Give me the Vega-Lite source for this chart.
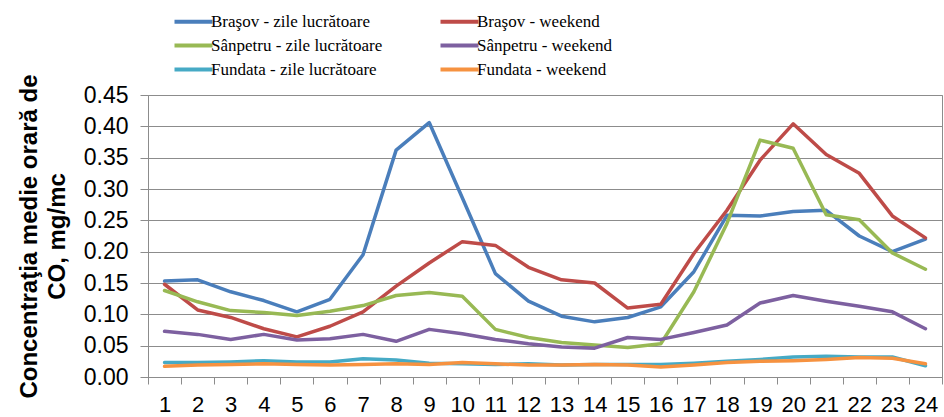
{
  "$schema": "https://vega.github.io/schema/vega-lite/v6.json",
  "width": 794,
  "height": 282,
  "autosize": {"type": "none"},
  "padding": {"left": 148, "top": 95, "right": 2, "bottom": 40},
  "background": "white",
  "config": {
    "view": {"stroke": "#8c8c8c", "strokeWidth": 1},
    "font": "Liberation Sans"
  },
  "datasets": {
    "d": [
      {"ora":"1","serie":"Braşov - zile lucrătoare","val":0.153},{"ora":"2","serie":"Braşov - zile lucrătoare","val":0.155},{"ora":"3","serie":"Braşov - zile lucrătoare","val":0.136},{"ora":"4","serie":"Braşov - zile lucrătoare","val":0.122},{"ora":"5","serie":"Braşov - zile lucrătoare","val":0.104},{"ora":"6","serie":"Braşov - zile lucrătoare","val":0.124},{"ora":"7","serie":"Braşov - zile lucrătoare","val":0.195},{"ora":"8","serie":"Braşov - zile lucrătoare","val":0.362},{"ora":"9","serie":"Braşov - zile lucrătoare","val":0.406},{"ora":"10","serie":"Braşov - zile lucrătoare","val":0.286},{"ora":"11","serie":"Braşov - zile lucrătoare","val":0.165},{"ora":"12","serie":"Braşov - zile lucrătoare","val":0.121},{"ora":"13","serie":"Braşov - zile lucrătoare","val":0.097},{"ora":"14","serie":"Braşov - zile lucrătoare","val":0.088},{"ora":"15","serie":"Braşov - zile lucrătoare","val":0.095},{"ora":"16","serie":"Braşov - zile lucrătoare","val":0.112},{"ora":"17","serie":"Braşov - zile lucrătoare","val":0.168},{"ora":"18","serie":"Braşov - zile lucrătoare","val":0.258},{"ora":"19","serie":"Braşov - zile lucrătoare","val":0.257},{"ora":"20","serie":"Braşov - zile lucrătoare","val":0.264},{"ora":"21","serie":"Braşov - zile lucrătoare","val":0.266},{"ora":"22","serie":"Braşov - zile lucrătoare","val":0.225},{"ora":"23","serie":"Braşov - zile lucrătoare","val":0.200},{"ora":"24","serie":"Braşov - zile lucrătoare","val":0.220},
      {"ora":"1","serie":"Braşov - weekend","val":0.148},{"ora":"2","serie":"Braşov - weekend","val":0.107},{"ora":"3","serie":"Braşov - weekend","val":0.095},{"ora":"4","serie":"Braşov - weekend","val":0.077},{"ora":"5","serie":"Braşov - weekend","val":0.064},{"ora":"6","serie":"Braşov - weekend","val":0.081},{"ora":"7","serie":"Braşov - weekend","val":0.104},{"ora":"8","serie":"Braşov - weekend","val":0.145},{"ora":"9","serie":"Braşov - weekend","val":0.182},{"ora":"10","serie":"Braşov - weekend","val":0.216},{"ora":"11","serie":"Braşov - weekend","val":0.210},{"ora":"12","serie":"Braşov - weekend","val":0.175},{"ora":"13","serie":"Braşov - weekend","val":0.155},{"ora":"14","serie":"Braşov - weekend","val":0.150},{"ora":"15","serie":"Braşov - weekend","val":0.110},{"ora":"16","serie":"Braşov - weekend","val":0.116},{"ora":"17","serie":"Braşov - weekend","val":0.197},{"ora":"18","serie":"Braşov - weekend","val":0.266},{"ora":"19","serie":"Braşov - weekend","val":0.346},{"ora":"20","serie":"Braşov - weekend","val":0.404},{"ora":"21","serie":"Braşov - weekend","val":0.355},{"ora":"22","serie":"Braşov - weekend","val":0.325},{"ora":"23","serie":"Braşov - weekend","val":0.257},{"ora":"24","serie":"Braşov - weekend","val":0.222},
      {"ora":"1","serie":"Sânpetru - zile lucrătoare","val":0.138},{"ora":"2","serie":"Sânpetru - zile lucrătoare","val":0.120},{"ora":"3","serie":"Sânpetru - zile lucrătoare","val":0.106},{"ora":"4","serie":"Sânpetru - zile lucrătoare","val":0.103},{"ora":"5","serie":"Sânpetru - zile lucrătoare","val":0.098},{"ora":"6","serie":"Sânpetru - zile lucrătoare","val":0.105},{"ora":"7","serie":"Sânpetru - zile lucrătoare","val":0.114},{"ora":"8","serie":"Sânpetru - zile lucrătoare","val":0.130},{"ora":"9","serie":"Sânpetru - zile lucrătoare","val":0.135},{"ora":"10","serie":"Sânpetru - zile lucrătoare","val":0.129},{"ora":"11","serie":"Sânpetru - zile lucrătoare","val":0.076},{"ora":"12","serie":"Sânpetru - zile lucrătoare","val":0.063},{"ora":"13","serie":"Sânpetru - zile lucrătoare","val":0.055},{"ora":"14","serie":"Sânpetru - zile lucrătoare","val":0.051},{"ora":"15","serie":"Sânpetru - zile lucrătoare","val":0.047},{"ora":"16","serie":"Sânpetru - zile lucrătoare","val":0.053},{"ora":"17","serie":"Sânpetru - zile lucrătoare","val":0.136},{"ora":"18","serie":"Sânpetru - zile lucrătoare","val":0.245},{"ora":"19","serie":"Sânpetru - zile lucrătoare","val":0.378},{"ora":"20","serie":"Sânpetru - zile lucrătoare","val":0.365},{"ora":"21","serie":"Sânpetru - zile lucrătoare","val":0.259},{"ora":"22","serie":"Sânpetru - zile lucrătoare","val":0.251},{"ora":"23","serie":"Sânpetru - zile lucrătoare","val":0.198},{"ora":"24","serie":"Sânpetru - zile lucrătoare","val":0.172},
      {"ora":"1","serie":"Sânpetru - weekend","val":0.073},{"ora":"2","serie":"Sânpetru - weekend","val":0.068},{"ora":"3","serie":"Sânpetru - weekend","val":0.060},{"ora":"4","serie":"Sânpetru - weekend","val":0.068},{"ora":"5","serie":"Sânpetru - weekend","val":0.059},{"ora":"6","serie":"Sânpetru - weekend","val":0.061},{"ora":"7","serie":"Sânpetru - weekend","val":0.068},{"ora":"8","serie":"Sânpetru - weekend","val":0.057},{"ora":"9","serie":"Sânpetru - weekend","val":0.076},{"ora":"10","serie":"Sânpetru - weekend","val":0.069},{"ora":"11","serie":"Sânpetru - weekend","val":0.060},{"ora":"12","serie":"Sânpetru - weekend","val":0.053},{"ora":"13","serie":"Sânpetru - weekend","val":0.048},{"ora":"14","serie":"Sânpetru - weekend","val":0.046},{"ora":"15","serie":"Sânpetru - weekend","val":0.063},{"ora":"16","serie":"Sânpetru - weekend","val":0.060},{"ora":"17","serie":"Sânpetru - weekend","val":0.071},{"ora":"18","serie":"Sânpetru - weekend","val":0.083},{"ora":"19","serie":"Sânpetru - weekend","val":0.118},{"ora":"20","serie":"Sânpetru - weekend","val":0.130},{"ora":"21","serie":"Sânpetru - weekend","val":0.121},{"ora":"22","serie":"Sânpetru - weekend","val":0.113},{"ora":"23","serie":"Sânpetru - weekend","val":0.104},{"ora":"24","serie":"Sânpetru - weekend","val":0.077},
      {"ora":"1","serie":"Fundata - zile lucrătoare","val":0.023},{"ora":"2","serie":"Fundata - zile lucrătoare","val":0.023},{"ora":"3","serie":"Fundata - zile lucrătoare","val":0.024},{"ora":"4","serie":"Fundata - zile lucrătoare","val":0.026},{"ora":"5","serie":"Fundata - zile lucrătoare","val":0.024},{"ora":"6","serie":"Fundata - zile lucrătoare","val":0.024},{"ora":"7","serie":"Fundata - zile lucrătoare","val":0.029},{"ora":"8","serie":"Fundata - zile lucrătoare","val":0.027},{"ora":"9","serie":"Fundata - zile lucrătoare","val":0.022},{"ora":"10","serie":"Fundata - zile lucrătoare","val":0.021},{"ora":"11","serie":"Fundata - zile lucrătoare","val":0.020},{"ora":"12","serie":"Fundata - zile lucrătoare","val":0.021},{"ora":"13","serie":"Fundata - zile lucrătoare","val":0.019},{"ora":"14","serie":"Fundata - zile lucrătoare","val":0.020},{"ora":"15","serie":"Fundata - zile lucrătoare","val":0.020},{"ora":"16","serie":"Fundata - zile lucrătoare","val":0.020},{"ora":"17","serie":"Fundata - zile lucrătoare","val":0.022},{"ora":"18","serie":"Fundata - zile lucrătoare","val":0.025},{"ora":"19","serie":"Fundata - zile lucrătoare","val":0.028},{"ora":"20","serie":"Fundata - zile lucrătoare","val":0.032},{"ora":"21","serie":"Fundata - zile lucrătoare","val":0.033},{"ora":"22","serie":"Fundata - zile lucrătoare","val":0.032},{"ora":"23","serie":"Fundata - zile lucrătoare","val":0.032},{"ora":"24","serie":"Fundata - zile lucrătoare","val":0.018},
      {"ora":"1","serie":"Fundata - weekend","val":0.017},{"ora":"2","serie":"Fundata - weekend","val":0.019},{"ora":"3","serie":"Fundata - weekend","val":0.020},{"ora":"4","serie":"Fundata - weekend","val":0.021},{"ora":"5","serie":"Fundata - weekend","val":0.020},{"ora":"6","serie":"Fundata - weekend","val":0.019},{"ora":"7","serie":"Fundata - weekend","val":0.020},{"ora":"8","serie":"Fundata - weekend","val":0.021},{"ora":"9","serie":"Fundata - weekend","val":0.020},{"ora":"10","serie":"Fundata - weekend","val":0.023},{"ora":"11","serie":"Fundata - weekend","val":0.021},{"ora":"12","serie":"Fundata - weekend","val":0.019},{"ora":"13","serie":"Fundata - weekend","val":0.019},{"ora":"14","serie":"Fundata - weekend","val":0.020},{"ora":"15","serie":"Fundata - weekend","val":0.019},{"ora":"16","serie":"Fundata - weekend","val":0.016},{"ora":"17","serie":"Fundata - weekend","val":0.019},{"ora":"18","serie":"Fundata - weekend","val":0.023},{"ora":"19","serie":"Fundata - weekend","val":0.025},{"ora":"20","serie":"Fundata - weekend","val":0.026},{"ora":"21","serie":"Fundata - weekend","val":0.028},{"ora":"22","serie":"Fundata - weekend","val":0.031},{"ora":"23","serie":"Fundata - weekend","val":0.030},{"ora":"24","serie":"Fundata - weekend","val":0.021}
    ]
  },
  "data": {"name": "d"},
  "mark": {"type": "line", "strokeWidth": 3.5, "strokeJoin": "round", "strokeCap": "round"},
  "encoding": {
    "x": {
      "field": "ora",
      "type": "ordinal",
      "sort": ["1","2","3","4","5","6","7","8","9","10","11","12","13","14","15","16","17","18","19","20","21","22","23","24"],
      "scale": {"type": "band", "paddingInner": 0, "paddingOuter": 0},
      "axis": {
        "title": null,
        "labelAngle": 0,
        "labelFont": "Liberation Sans",
        "labelFontSize": 22,
        "labelColor": "#000000",
        "labelPadding": 10,
        "tickBand": "extent",
        "tickSize": 7,
        "tickColor": "#8c8c8c",
        "domainColor": "#8c8c8c",
        "grid": false
      }
    },
    "y": {
      "field": "val",
      "type": "quantitative",
      "scale": {"domain": [0, 0.45], "nice": false, "zero": true},
      "axis": {
        "title": ["Concentraţia medie orară de", "CO, mg/mc"],
        "titleFont": "Liberation Sans",
        "titleFontSize": 24,
        "titleFontWeight": "bold",
        "titleColor": "#000000",
        "titleLineHeight": 28,
        "titlePadding": 14,
        "values": [0, 0.05, 0.1, 0.15, 0.2, 0.25, 0.3, 0.35, 0.4, 0.45],
        "format": ".2f",
        "labelFont": "Liberation Sans",
        "labelFontSize": 23,
        "labelColor": "#000000",
        "labelPadding": 12,
        "tickSize": 8,
        "tickColor": "#8c8c8c",
        "domainColor": "#8c8c8c",
        "gridColor": "#8c8c8c",
        "gridWidth": 1
      }
    },
    "color": {
      "field": "serie",
      "type": "nominal",
      "scale": {
        "domain": ["Braşov - zile lucrătoare", "Sânpetru - zile lucrătoare", "Fundata - zile lucrătoare", "Braşov - weekend", "Sânpetru - weekend", "Fundata - weekend"],
        "range": ["#4A7EBB", "#98B954", "#46AAC5", "#BE4B48", "#7D60A0", "#F69240"]
      },
      "legend": {
        "title": null,
        "orient": "none",
        "legendX": 34,
        "legendY": -85,
        "columns": 2,
        "columnPadding": 49,
        "rowPadding": 4,
        "padding": 0,
        "symbolType": "M-2,0H2",
        "symbolSize": 361,
        "symbolStrokeWidth": 4,
        "symbolFillColor": "transparent",
        "labelOffset": 6,
        "labelFont": "Liberation Sans Narrow",
        "labelFontSize": 17,
        "labelColor": "#000000",
        "labelLimit": 400
      }
    }
  }
}
